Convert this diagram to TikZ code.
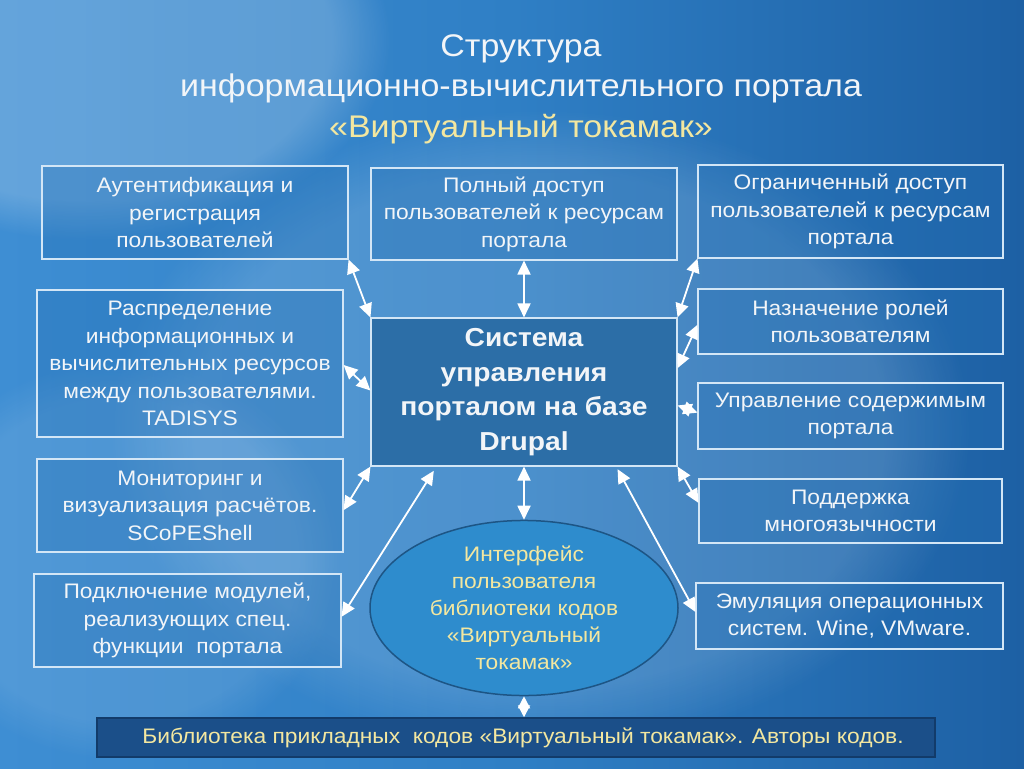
\documentclass[tikz,border=0pt]{standalone}
\usepackage{fontspec}
\setmainfont[FakeStretch=1.085]{Liberation Sans}
\usetikzlibrary{arrows.meta,shapes.geometric,calc,fadings}
\definecolor{bgdark}{HTML}{1D60A4}
\definecolor{bgmid}{HTML}{2F7FC5}
\definecolor{bglight}{HTML}{3E8ED3}
\definecolor{boxline}{HTML}{D3E6F6}
\definecolor{boxfill}{HTML}{2470B5}
\definecolor{centerfill}{HTML}{2C6EA7}
\definecolor{ellfill}{HTML}{2E8CCD}
\definecolor{ellline}{HTML}{1D5585}
\definecolor{barfill}{HTML}{1B4F89}
\definecolor{barline}{HTML}{123B6A}
\definecolor{yel}{HTML}{F3E7A0}
\definecolor{txt}{HTML}{F2F5F8}
\tikzset{
  box/.style={draw=boxline, line width=1.1pt, fill=boxfill, fill opacity=0.35, text opacity=1,
    text=txt, align=center, inner sep=0pt, font=\fontsize{21}{27.5}\selectfont},
  arr/.style={draw=white, line width=1.8pt, <->, >={Triangle[length=14pt,width=13pt]}},
}
\begin{document}
\begin{tikzpicture}[x=1pt,y=-1pt]
\useasboundingbox (0,0) rectangle (1024,768);
% background
\shade[left color=bglight, right color=bgdark, middle color=bgmid] (0,0) rectangle (1024,768);
\fill[white, opacity=0.20, path fading=circle with fuzzy edge 20 percent] (90,40) ellipse (300 and 200);
\fill[white, opacity=0.14, path fading=circle with fuzzy edge 20 percent] (540,430) ellipse (430 and 320);
\fill[white, opacity=0.10, path fading=circle with fuzzy edge 20 percent] (120,560) ellipse (220 and 200);
% title
\node[align=center, text=txt, font=\fontsize{31.3}{40.5}\selectfont] (title) at (521,89)
  {Структура\\информационно-вычислительного портала\\\textcolor{yel}{«Виртуальный токамак»}};
% left boxes
\node[box, minimum width=306pt, minimum height=93pt] (auth) at (195,212.5)
  {Аутентификация и\\регистрация\\пользователей};
\node[box, minimum width=306pt, minimum height=147pt] (dist) at (190,363.5)
  {Распределение\\информационных и\\вычислительных ресурсов\\между пользователями.\\TADISYS};
\node[box, minimum width=306pt, minimum height=93pt] (mon) at (190,505.5)
  {Мониторинг и\\визуализация расчётов.\\SCoPEShell};
\node[box, minimum width=307pt, minimum height=93pt] (mod) at (187.5,620.5)
  {Подключение модулей,\\реализующих спец.\\функции\ \ портала};
% top middle
\node[box, minimum width=306pt, minimum height=92pt] (full) at (524,214)
  {Полный доступ\\пользователей к ресурсам\\портала};
% right boxes
\node[box, minimum width=305pt, minimum height=93pt] (lim) at (850.5,211.5)
  {Ограниченный доступ\\пользователей к ресурсам\\портала};
\node[box, minimum width=305pt, minimum height=65pt] (roles) at (850.5,321.5)
  {Назначение ролей\\пользователям};
\node[box, minimum width=305pt, minimum height=66pt] (cont) at (850.5,416)
  {Управление содержимым\\портала};
\node[box, minimum width=303pt, minimum height=64pt] (multi) at (850.5,511)
  {Поддержка\\многоязычности};
\node[box, minimum width=307pt, minimum height=66pt] (emu) at (849.5,616)
  {Эмуляция операционных\\систем. Wine, VMware.};
% center
\node[draw=boxline, line width=1.1pt, fill=centerfill, text=txt, align=center, inner sep=0pt,
  minimum width=306pt, minimum height=148pt, font=\bfseries\fontsize{26}{34.5}\selectfont] (ctr) at (524,392)
  {Система\\управления\\порталом на базе\\Drupal};
% ellipse
\node[ellipse, draw=ellline, line width=1.5pt, fill=ellfill, text=yel, align=center, inner sep=0pt,
  minimum width=308pt, minimum height=156pt, font=\fontsize{21}{27}\selectfont] (ell) at (524,608)
  {Интерфейс\\пользователя\\библиотеки кодов\\«Виртуальный\\токамак»};
% bottom bar
\node[draw=barline, line width=1.5pt, fill=barfill, text=yel, inner sep=0pt,
  minimum width=838pt, minimum height=39pt, font=\fontsize{21}{24}\selectfont] (bar) at (516,737.5)
  {\hspace*{14pt}Библиотека прикладных\ \ кодов «Виртуальный токамак». Авторы кодов.};
% arrows
\draw[arr] (auth.south east) -- (ctr.north west);
\draw[arr] (full.south) -- (ctr.north);
\draw[arr] (lim.south west) -- (ctr.north east);
\draw[arr] ($(roles.north west)!0.55!(roles.south west)$) -- ($(ctr.north east)!0.34!(ctr.south east)$);
\draw[arr] ($(cont.north west)!0.45!(cont.south west)$) -- ($(ctr.north east)!0.59!(ctr.south east)$);
\draw[arr] ($(multi.north west)!0.375!(multi.south west)$) -- (ctr.south east);
\draw[arr, shorten <=3pt] ($(ctr.south west)!0.80!(ctr.south east)$) -- ($(emu.north west)!0.44!(emu.south west)$);
\draw[arr] ($(dist.north east)!0.51!(dist.south east)$) -- ($(ctr.north west)!0.49!(ctr.south west)$);
\draw[arr] ($(mon.north east)!0.55!(mon.south east)$) -- (ctr.south west);
\draw[arr, shorten >=5pt] ($(mod.north east)!0.46!(mod.south east)$) -- ($(ctr.south west)!0.215!(ctr.south east)$);
\draw[arr] (ctr.south) -- (ell.north);
\draw[arr, >={Triangle[length=12pt,width=12pt]}] (ell.south) -- (ell.south |- bar.north);
\end{tikzpicture}
\end{document}
